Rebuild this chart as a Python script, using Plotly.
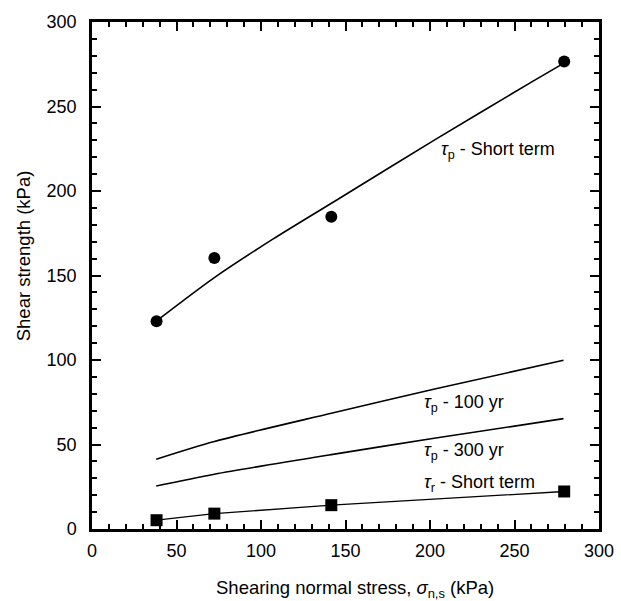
import plotly.graph_objects as go

# Measured points
sigma_pts = [38.2, 72.4, 141.6, 279.4]
tau_p_short_pts = [122.9, 160.3, 184.8, 276.6]
tau_r_short_pts = [5.2, 9.1, 14.1, 22.2]

# Fitted curve: tau_p short term
sigma_fit = [38, 72, 107, 147, 204, 261, 279]
tau_p_short_fit = [123, 148.5, 171.5, 196, 231, 265, 275.5]

# Long-term curves
sigma_lt = [38, 72.4, 141.6, 203.4, 279]
tau_p_100 = [41.3, 51.8, 68.5, 83.0, 99.8]
tau_p_300 = [25.4, 32.4, 44.0, 53.8, 65.3]

# Residual fit line (through squares)
sigma_r = [38.2, 72.4, 141.6, 279.4]
tau_r_fit = [5.2, 9.1, 14.1, 22.2]

labels = ["<i>τ</i><sub>p</sub> - Short term", "<i>τ</i><sub>p</sub> - 100 yr",
          "<i>τ</i><sub>p</sub> - 300 yr", "<i>τ</i><sub>r</sub> - Short term"]
label_x = [205.5, 195, 195, 195]
label_y = [224, 74.4, 45.8, 27.2]

FONT = "Liberation Sans, Arial, Helvetica, sans-serif"

fig = go.Figure()
fig.add_trace(go.Scatter(x=sigma_fit, y=tau_p_short_fit, mode="lines",
                         line=dict(color="black", width=1.6, shape="spline", smoothing=0.8)))
fig.add_trace(go.Scatter(x=sigma_lt, y=tau_p_100, mode="lines",
                         line=dict(color="black", width=1.6, shape="spline", smoothing=0.8)))
fig.add_trace(go.Scatter(x=sigma_lt, y=tau_p_300, mode="lines",
                         line=dict(color="black", width=1.6, shape="spline", smoothing=0.8)))
fig.add_trace(go.Scatter(x=sigma_r, y=tau_r_fit, mode="lines",
                         line=dict(color="black", width=1.3)))
fig.add_trace(go.Scatter(x=sigma_pts, y=tau_p_short_pts, mode="markers",
                         marker=dict(symbol="circle", size=12, color="black")))
fig.add_trace(go.Scatter(x=sigma_pts, y=tau_r_short_pts, mode="markers",
                         marker=dict(symbol="square", size=12, color="black")))

for t, xx, yy in zip(labels, label_x, label_y):
    fig.add_annotation(x=xx, y=yy, text=t, showarrow=False, xanchor="left",
                       yanchor="middle", font=dict(size=18, color="black", family=FONT))

axis_common = dict(
    range=[0, 300], dtick=50, tick0=0, ticks="inside", ticklen=9, tickwidth=2,
    tickcolor="black", showline=True, linecolor="black", linewidth=2.5,
    mirror="ticks", showgrid=False, zeroline=False,
    tickfont=dict(size=18, color="black", family=FONT),
    minor=dict(dtick=10, ticks="inside", ticklen=5, tickwidth=2, tickcolor="black", showgrid=False),
    automargin=False,
)
fig.update_xaxes(**axis_common, ticklabelstandoff=4)
fig.update_yaxes(**axis_common, ticklabelstandoff=9)

fig.add_annotation(xref="paper", yref="paper", x=0.5197, y=-0.118,
                   text="Shearing normal stress, <i>σ</i><sub>n,s</sub> (kPa)",
                   showarrow=False, xanchor="center", yanchor="middle",
                   font=dict(size=18.5, color="black", family=FONT))
fig.add_annotation(xref="paper", yref="paper", x=-0.136, y=0.538,
                   text="Shear strength (kPa)", textangle=-90,
                   showarrow=False, xanchor="center", yanchor="middle",
                   font=dict(size=18.5, color="black", family=FONT))

fig.update_layout(
    width=621, height=601,
    margin=dict(l=92, r=22, t=22, b=72),
    plot_bgcolor="white", paper_bgcolor="white",
    showlegend=False,
    font=dict(family=FONT, color="black"),
)

fig.write_html("out.html")
